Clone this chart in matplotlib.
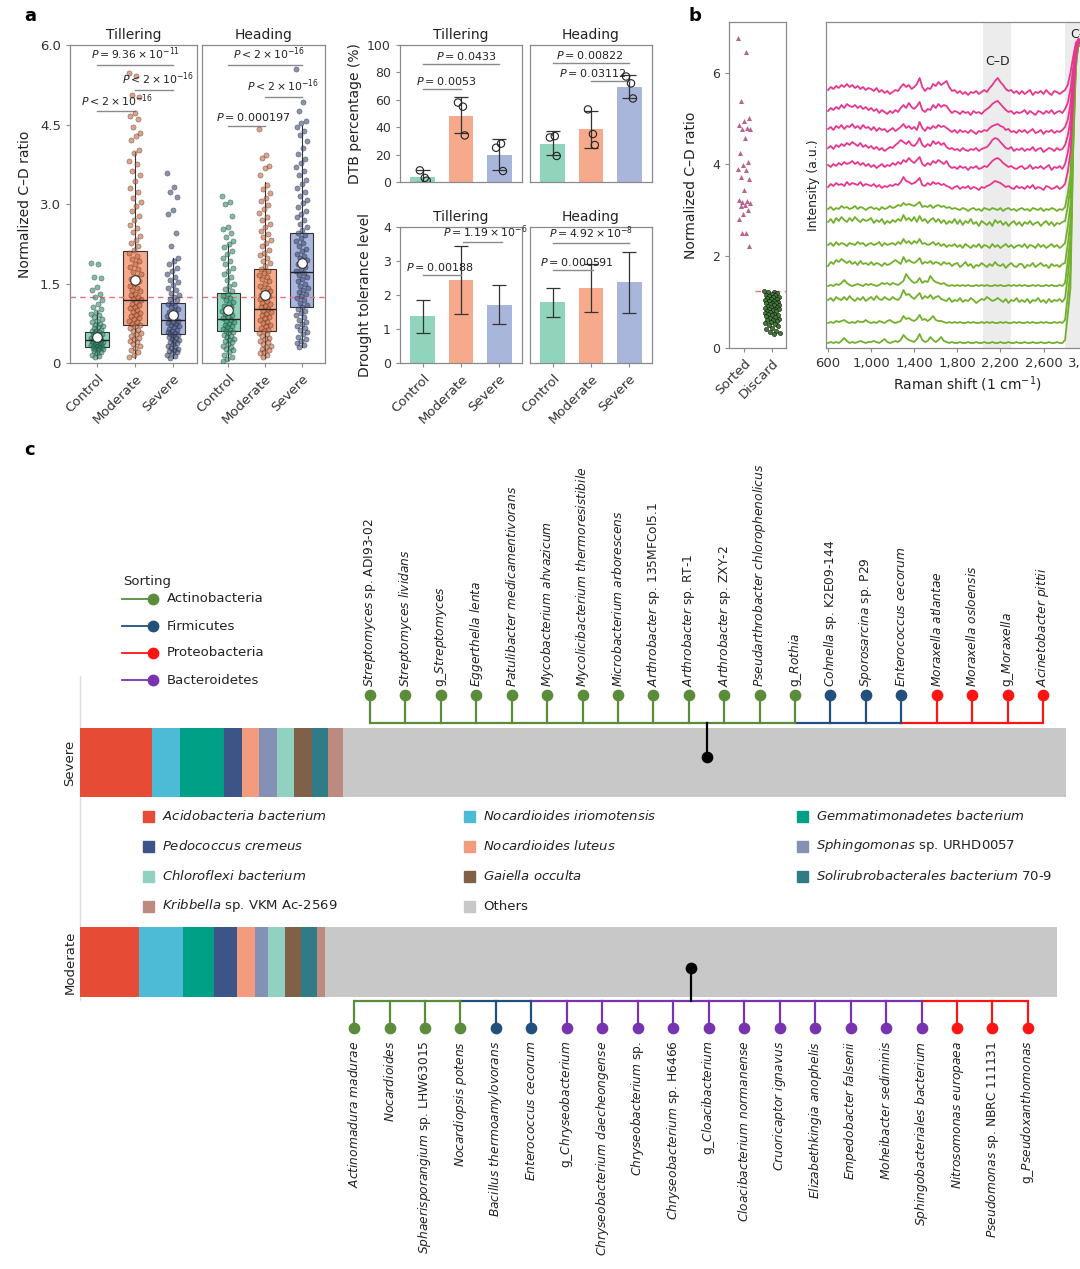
import numpy as np
import matplotlib.pyplot as plt
from matplotlib.patches import Rectangle
from matplotlib.lines import Line2D

W, H = 1080, 1269

# ---------------- panel a: C-D ratio box plots ----------------
groups = ['Control', 'Moderate', 'Severe']
til_q1 = [0.31, 0.72, 0.55]
til_med = [0.43, 1.19, 0.82]
til_q3 = [0.58, 2.12, 1.14]
til_lo = [0.1, 0.1, 0.1]
til_hi = [0.98, 3.98, 1.98]
til_mean = [0.49, 1.57, 0.91]

head_q1 = [0.6, 0.61, 1.05]
head_med = [0.83, 1.02, 1.71]
head_q3 = [1.32, 1.77, 2.46]
head_lo = [0.05, 0.1, 0.3]
head_hi = [2.25, 3.42, 4.48]
head_mean = [1.0, 1.29, 1.88]

til_ctrl = [1.88, 1.86, 1.62, 1.6, 1.44, 1.38, 1.31, 1.24, 1.18, 1.11, 1.06, 1.01, 0.97, 0.93,
            0.9, 0.86, 0.83, 0.79, 0.77, 0.74, 0.72, 0.7, 0.68, 0.66, 0.63, 0.61, 0.6, 0.58,
            0.56, 0.55, 0.53, 0.52, 0.5, 0.49, 0.48, 0.46, 0.45, 0.44, 0.43, 0.42, 0.41, 0.4,
            0.39, 0.38, 0.37, 0.36, 0.35, 0.34, 0.33, 0.32, 0.31, 0.3, 0.29, 0.28, 0.27, 0.26,
            0.24, 0.22, 0.2, 0.18, 0.16, 0.13, 0.11]
til_mod = [5.48, 5.42, 5.05, 5.01, 4.72, 4.66, 4.61, 4.45, 4.34, 4.29, 4.21, 4.02, 3.97, 3.82,
           3.76, 3.62, 3.55, 3.44, 3.31, 3.22, 3.12, 3.03, 2.96, 2.87, 2.78, 2.7, 2.61, 2.55,
           2.47, 2.4, 2.33, 2.26, 2.2, 2.14, 2.08, 2.02, 1.97, 1.92, 1.87, 1.82, 1.77, 1.72,
           1.67, 1.63, 1.58, 1.54, 1.5, 1.46, 1.42, 1.38, 1.35, 1.31, 1.28, 1.24, 1.21, 1.18,
           1.15, 1.12, 1.09, 1.06, 1.03, 1.0, 0.97, 0.94, 0.91, 0.88, 0.85, 0.83, 0.8, 0.77,
           0.74, 0.72, 0.69, 0.66, 0.63, 0.6, 0.57, 0.54, 0.51, 0.48, 0.45, 0.42, 0.39, 0.36,
           0.32, 0.28, 0.24, 0.2, 0.16, 0.12]
til_sev = [3.58, 3.33, 3.22, 3.14, 2.88, 2.82, 2.45, 2.2, 1.98, 1.92, 1.86, 1.8, 1.74, 1.68,
           1.62, 1.57, 1.52, 1.47, 1.42, 1.38, 1.33, 1.29, 1.25, 1.21, 1.18, 1.14, 1.11, 1.08,
           1.05, 1.02, 0.99, 0.96, 0.93, 0.9, 0.88, 0.85, 0.83, 0.8, 0.78, 0.76, 0.73, 0.71,
           0.69, 0.67, 0.65, 0.63, 0.61, 0.59, 0.57, 0.55, 0.53, 0.51, 0.49, 0.47, 0.45, 0.43,
           0.41, 0.39, 0.37, 0.35, 0.33, 0.31, 0.29, 0.27, 0.25, 0.23, 0.21, 0.19, 0.16, 0.13, 0.1]
head_ctrl = [3.15, 3.03, 3.0, 2.78, 2.57, 2.52, 2.45, 2.38, 2.3, 2.24, 2.18, 2.12, 2.05, 1.98,
             1.92, 1.86, 1.8, 1.74, 1.68, 1.62, 1.56, 1.5, 1.45, 1.4, 1.35, 1.31, 1.27, 1.23,
             1.19, 1.15, 1.11, 1.08, 1.05, 1.02, 0.99, 0.96, 0.93, 0.9, 0.87, 0.84, 0.82, 0.79,
             0.77, 0.74, 0.72, 0.7, 0.67, 0.65, 0.63, 0.6, 0.58, 0.56, 0.53, 0.51, 0.49, 0.46,
             0.44, 0.41, 0.39, 0.36, 0.33, 0.3, 0.27, 0.24, 0.2, 0.16, 0.12, 0.08, 0.04]
head_mod = [4.42, 3.92, 3.87, 3.72, 3.68, 3.55, 3.36, 3.28, 3.2, 3.12, 3.05, 2.98, 2.9, 2.83,
            2.76, 2.7, 2.63, 2.57, 2.5, 2.44, 2.38, 2.32, 2.26, 2.2, 2.14, 2.08, 2.03, 1.98,
            1.93, 1.88, 1.83, 1.78, 1.74, 1.7, 1.66, 1.62, 1.58, 1.54, 1.5, 1.46, 1.42, 1.38,
            1.35, 1.32, 1.29, 1.26, 1.23, 1.2, 1.17, 1.14, 1.11, 1.08, 1.05, 1.02, 0.99, 0.96,
            0.93, 0.9, 0.87, 0.84, 0.81, 0.78, 0.75, 0.72, 0.69, 0.66, 0.63, 0.6, 0.57, 0.54,
            0.51, 0.48, 0.45, 0.42, 0.39, 0.36, 0.33, 0.3, 0.27, 0.24, 0.21, 0.18, 0.15, 0.12]
head_sev = [5.55, 4.92, 4.75, 4.57, 4.52, 4.45, 4.38, 4.3, 4.18, 4.05, 3.95, 3.85, 3.78, 3.7,
            3.62, 3.55, 3.45, 3.38, 3.3, 3.22, 3.15, 3.08, 3.01, 2.94, 2.87, 2.81, 2.75, 2.69,
            2.63, 2.57, 2.51, 2.46, 2.41, 2.36, 2.31, 2.26, 2.21, 2.16, 2.11, 2.06, 2.02, 1.98,
            1.94, 1.9, 1.86, 1.82, 1.78, 1.74, 1.7, 1.66, 1.62, 1.58, 1.54, 1.5, 1.46, 1.42,
            1.38, 1.34, 1.3, 1.26, 1.22, 1.18, 1.14, 1.1, 1.06, 1.02, 0.98, 0.94, 0.9, 0.86,
            0.82, 0.78, 0.74, 0.7, 0.66, 0.62, 0.58, 0.54, 0.5, 0.46, 0.42, 0.38, 0.34, 0.3]
cd_threshold = 1.25

# ---------------- panel a: bar charts ----------------
dtb_til = [4, 48.5, 20]
dtb_til_lo = [0, 35.5, 9]
dtb_til_hi = [9, 62, 31.5]
dtb_til_pts = [[8.5, 3, 1], [58, 55, 34], [25, 28, 8]]
dtb_head = [28, 38.5, 69.5]
dtb_head_lo = [19.5, 25, 61]
dtb_head_hi = [37, 51.5, 78]
dtb_head_pts = [[32.5, 33.5, 19], [53, 35, 27], [77, 72, 61]]

tol_til = [1.37, 2.45, 1.72]
tol_til_lo = [0.88, 1.45, 1.14]
tol_til_hi = [1.85, 3.44, 2.3]
tol_head = [1.79, 2.2, 2.38]
tol_head_lo = [1.36, 1.5, 1.48]
tol_head_hi = [2.22, 2.92, 3.27]

# ---------------- panel b ----------------
sorted_ratio = [6.75, 6.45, 5.38, 5.0, 4.95, 4.85, 4.8, 4.78, 4.77, 4.58, 4.25, 4.05, 3.98, 3.9,
                3.88, 3.72, 3.68, 3.45, 3.22, 3.2, 3.18, 3.15, 3.12, 3.1, 3.0, 2.92, 2.82, 2.5,
                2.5, 2.22]
discard_ratio = [1.25, 1.23, 1.21, 1.2, 1.18, 1.16, 1.15, 1.13, 1.12, 1.1, 1.09, 1.07, 1.06, 1.05,
                 1.03, 1.02, 1.01, 0.99, 0.98, 0.97, 0.95, 0.94, 0.93, 0.92, 0.9, 0.89, 0.88,
                 0.86, 0.85, 0.84, 0.82, 0.81, 0.8, 0.78, 0.77, 0.75, 0.74, 0.72, 0.71, 0.69,
                 0.68, 0.66, 0.64, 0.62, 0.6, 0.58, 0.56, 0.54, 0.52, 0.5, 0.47, 0.44, 0.41,
                 0.38, 0.35, 0.32, 0.3]

raman_shift = list(range(600, 3001, 25))
# spectra relative to their own flat level (a.u.), one value every 25 cm-1
spec_sorted = [
    [3, 6, 4, 7, 5, 8, 6, 9, 6, 8, 5, 7, 4, 6, 3, 5,
     4, 2, 5, 1, 3, 0, 2, -1, 1, 3, 2, 6, 9, 6, 8, 4, 6, 9, 15, 6, 2, 5, 4, 9, 7, 11, 8, 10, 12, 6, 2, 3,
     0, 2, -1, 1, -2, 1, 0, 2, -1, 1, 3, 1, 5, 8, 12, 15, 11, 8, 4, 2, 3, 0, 2, -1,
     2, -1, 1, 3, -2, 1, 0, 2, -1, 3, 0, -2, 2, 1, -1, 1,
     3, 8, 20, 36, 50, 54, 52, 48, 40],
    [2, 5, 3, 6, 4, 8, 5, 9, 7, 6, 8, 5, 7, 4, 6, 3,
     5, 2, 4, 0, 3, 1, -1, 2, 0, 3, 1, 5, 8, 5, 10, 6, 4, 7, 11, 3, 1, 4, 3, 8, 5, 9, 6, 8, 7, 3, 0, 2,
     1, -1, 2, 0, 1, -2, 2, 0, 1, -1, 2, 4, 6, 9, 11, 12, 9, 6, 3, 1, 2, -1, 1, 0,
     1, 3, -1, 2, 0, -2, 2, 1, -1, 2, 0, 3, -1, 1, 2, 0,
     4, 10, 24, 45, 66, 74, 72, 64, 55],
    [3, 5, 2, 6, 4, 7, 3, 6, 5, 8, 4, 6, 3, 7, 4, 5,
     2, 5, 1, 4, 2, 3, 0, 2, 4, 1, 3, 5, 8, 4, 6, 3, 5, 2, 10, 4, 1, 5, 3, 6, 4, 7, 5, 6, 4, 2, 0, 2,
     -1, 2, 0, 1, -1, 2, 0, -2, 1, 0, 2, 1, 4, 6, 7, 8, 6, 5, 2, 3, 0, 1, -1, 2,
     0, 2, -1, 1, 3, -1, 0, 2, -2, 1, 0, 2, -1, 1, 0, 2,
     5, 12, 28, 55, 82, 92, 90, 80, 70],
    [2, 4, 1, 5, 3, 6, 4, 7, 5, 8, 6, 4, 7, 3, 5, 2,
     4, 1, 3, 0, 2, -1, 1, 3, 2, 5, 7, 10, 8, 6, 9, 5, 4, 7, 12, 5, 3, 6, 4, 9, 6, 8, 5, 7, 3, 1, 2, 0,
     1, -1, 2, 0, -1, 1, 0, 2, -1, 1, 2, 3, 6, 10, 12, 11, 8, 5, 2, 1, 3, -1, 1, 0,
     2, -1, 1, 0, 3, -1, 1, 2, -2, 0, 2, 1, -1, 2, 0, 1,
     5, 14, 30, 65, 98, 110, 108, 96, 85],
    [3, 1, 4, 2, 5, 3, 6, 4, 5, 7, 4, 6, 3, 5, 2, 4,
     1, 3, 0, 2, 4, 1, 3, 2, 5, 3, 6, 4, 8, 6, 10, 7, 5, 8, 11, 4, 2, 5, 3, 7, 5, 8, 6, 4, 7, 2, 0, 1,
     -1, 2, 0, 1, -2, 1, 0, 2, -1, 0, 2, 1, 4, 7, 9, 10, 8, 5, 3, 1, 2, 0, -1, 1,
     2, -1, 0, 3, -1, 1, 0, 2, -1, 1, 3, -2, 1, 0, 2, -1,
     4, 15, 32, 75, 115, 128, 126, 112, 100],
    [1, 4, 2, 5, 3, 4, 2, 6, 3, 5, 4, 3, 6, 2, 4, 3,
     2, 4, 1, 3, 0, 2, 1, 3, 2, 4, 3, 6, 11, 7, 6, 4, 5, 7, 10, 3, 2, 5, 3, 6, 4, 5, 3, 4, 2, 1, -1, 1,
     2, -1, 1, 0, 2, -1, 1, 0, -2, 1, 0, 2, 3, 5, 7, 6, 5, 3, 1, 2, 0, -1, 2, 0,
     1, -1, 2, 0, 3, -1, 1, 0, -2, 2, 1, -1, 0, 2, -1, 1,
     4, 16, 35, 85, 130, 146, 144, 128, 115],
]
spec_discard = [
    [1, 3, 0, 2, 1, 4, 2, 3, 1, 2, 4, 1, 3, 2, 0, 2,
     3, 1, 2, 0, 3, 1, 2, 4, 2, 3, 5, 4, 7, 5, 6, 5, 4, 6, 8, 3, 4, 3, 5, 2, 4, 5, 3, 4, 2, 3, 1, 2,
     1, 0, 2, 1, -1, 1, 2, 0, 1, -1, 2, 1, 0, 2, 1, 0, 2, -1, 1, 2, 0, 1, -1, 1,
     2, 0, 1, -1, 2, 1, 0, 2, -1, 1, 0, 2, 1, -1, 1, 0,
     3, 16, 35, 95, 150, 165, 163, 148, 130],
    [3, 6, 2, 7, 4, 8, 5, 3, 7, 4, 8, 5, 3, 6, 4, 5,
     7, 2, 5, 3, 6, 1, 4, 2, 5, 3, 6, 4, 10, 5, 7, 4, 8, 3, 9, 4, 6, 2, 5, 7, 3, 6, 2, 5, 1, 4, 2, 6,
     1, 5, 0, 4, 2, 6, 1, 3, -1, 4, 2, 0, 3, -1, 5, 2, 4, 0, 3, -1, 2, 4, 0, 3,
     -1, 3, 1, 4, 0, 2, 3, -1, 2, 4, 0, 3, -1, 2, 1, 3,
     4, 18, 38, 105, 165, 180, 178, 160, 140],
    [2, 4, 1, 5, 2, 4, 3, 1, 4, 3, 2, 5, 3, 4, 1, 3,
     4, 2, 3, 5, 1, 4, 2, 3, 4, 2, 5, 3, 8, 4, 6, 3, 6, 4, 8, 3, 4, 2, 3, 5, 2, 4, 1, 3, 0, 2, 1, 3,
     0, 2, -1, 3, 1, -1, 2, 0, 3, -1, 2, 1, -1, 3, 0, 2, -1, 1, 3, 0, 2, -1, 1, 2,
     0, 3, -1, 2, 1, -1, 3, 0, 2, -1, 1, 3, 0, 2, -1, 1,
     4, 20, 42, 120, 185, 205, 200, 180, 160],
    [1, 5, 3, 7, 5, 8, 6, 4, 6, 3, 5, 2, 6, 3, 4, 2,
     5, 2, 4, 3, 1, 4, 2, 3, 5, 7, 5, 3, 10, 5, 7, 5, 4, 6, 9, 3, 5, 4, 6, 3, 5, 4, 2, 5, 3, 4, 1, 3,
     4, 0, 2, 5, 1, 3, -1, 2, 1, 4, 2, 0, 3, 1, 5, 2, 1, 3, -1, 2, 4, 1, 0, 3,
     3, -1, 2, 1, 4, 0, 2, 4, 1, 2, -1, 3, 1, 2, 0, 3,
     4, 22, 45, 135, 205, 225, 220, 198, 175],
    [0, 1, 0, 2, 1, 3, 6, 3, 1, 0, 1, 2, 1, 0, 2, 1,
     2, 1, 0, 1, 3, 2, 3, 1, 3, 2, 1, 3, 5, 12, 8, 5, 3, 4, 8, 3, 5, 4, 10, 6, 4, 3, 2, 3, 1, 0, 1, 0,
     1, 0, 1, 0, 1, 0, 0, 1, 0, 1, 0, 1, 0, 0, 1, 0, 1, 0, 0, 1, 0, 1, 0, 1,
     0, 1, 0, 0, 1, 0, 1, 0, 0, 1, 0, 1, 0, 0, 1, 0,
     3, 24, 48, 150, 225, 245, 240, 215, 190],
    [2, 4, 1, 5, 3, 2, 5, 2, 6, 3, 1, 4, 2, 5, 1, 3,
     5, 2, 6, 3, 2, 5, 3, 2, 5, 3, 2, 5, 12, 7, 8, 5, 3, 6, 9, 3, 6, 4, 7, 3, 5, 6, 3, 2, 1, 4, 0, 2,
     1, 4, 0, 2, 1, 4, 2, -1, 1, 3, 2, 5, 3, 1, 2, 4, 2, 0, 3, -1, 2, 1, 4, 0,
     2, 0, 3, -1, 2, 1, 4, 0, 2, -1, 3, 0, 2, 1, 3, 0,
     4, 25, 50, 165, 240, 262, 258, 230, 205],
    [0, 1, 0, 2, 1, 2, 3, 1, 0, 1, 0, 2, 1, 1, 3, 1,
     0, 1, 0, 2, 1, 0, 2, 3, 1, 0, 1, 2, 7, 4, 5, 3, 2, 4, 8, 3, 4, 2, 4, 7, 3, 2, 2, 1, 0, 1, 0, 1,
     0, 1, 0, 0, 1, 0, 1, 0, 0, 1, 0, 1, 0, 1, 0, 0, 1, 0, 1, 0, 0, 1, 0, 1,
     0, 0, 1, 0, 1, 0, 0, 1, 0, 1, 0, 0, 1, 0, 1, 0,
     3, 26, 52, 175, 255, 282, 278, 248, 220],
    [0, 1, 0, 1, 0, 2, 5, 2, 0, 1, 0, 1, 2, 1, 0, 1,
     1, 2, 1, 0, 2, 4, 1, 0, 1, 2, 1, 3, 8, 5, 3, 2, 1, 4, 9, 3, 1, 2, 6, 3, 1, 3, 6, 2, 1, 0, 1, 0,
     0, 1, 0, 0, 1, 0, 0, 1, 0, 0, 1, 0, 0, 1, 0, 0, 1, 0, 0, 1, 0, 0, 1, 0,
     0, 1, 0, 0, 1, 0, 0, 1, 0, 0, 1, 0, 0, 1, 0, 0,
     3, 28, 55, 190, 275, 300, 296, 262, 235],
]
sorted_offsets = [255, 235, 216, 198, 180, 160]
discard_offsets = [138, 123, 101, 81, 62, 46, 25, 5]

# ---------------- panel c ----------------
taxa = [r'$\it{Acidobacteria\ bacterium}$', r'$\it{Nocardioides\ iriomotensis}$',
        r'$\it{Gemmatimonadetes\ bacterium}$', r'$\it{Pedococcus\ cremeus}$',
        r'$\it{Nocardioides\ luteus}$', r'$\it{Sphingomonas}$ sp. URHD0057',
        r'$\it{Chloroflexi\ bacterium}$', r'$\it{Gaiella\ occulta}$',
        r'$\it{Solirubrobacterales\ bacterium}$ 70-9', r'$\it{Kribbella}$ sp. VKM Ac-2569',
        'Others']
taxa_colors = ['#e64b35', '#4dbbd5', '#00a087', '#3c5488', '#f39b7f', '#8491b4',
               '#91d1c2', '#7e6148', '#317b87', '#bd8a80', '#c8c8c8']
severe_abund = [7.3, 2.87, 4.43, 1.86, 1.69, 1.80, 1.79, 1.76, 1.68, 1.52, 73.3]
moderate_abund = [5.98, 4.51, 3.05, 2.37, 1.87, 1.26, 1.72, 1.66, 1.65, 0.80, 74.23]

phyla = ['Actinobacteria', 'Firmicutes', 'Proteobacteria', 'Bacteroidetes']
phyla_colors = {'Actinobacteria': '#5b8c3a', 'Firmicutes': '#22507e',
                'Proteobacteria': '#ff1414', 'Bacteroidetes': '#7834b0'}

severe_taxa = [r'$\it{Streptomyces}$ sp. ADI93-02', r'$\it{Streptomyces\ lividans}$',
               r'g_$\it{Streptomyces}$', r'$\it{Eggerthella\ lenta}$',
               r'$\it{Patulibacter\ medicamentivorans}$', r'$\it{Mycobacterium\ ahvazicum}$',
               r'$\it{Mycolicibacterium\ thermoresistibile}$',
               r'$\it{Microbacterium\ arborescens}$', r'$\it{Arthrobacter}$ sp. 135MFCol5.1',
               r'$\it{Arthrobacter}$ sp. RT-1', r'$\it{Arthrobacter}$ sp. ZXY-2',
               r'$\it{Pseudarthrobacter\ chlorophenolicus}$', r'g_$\it{Rothia}$',
               r'$\it{Cohnella}$ sp. K2E09-144', r'$\it{Sporosarcina}$ sp. P29',
               r'$\it{Enterococcus\ cecorum}$', r'$\it{Moraxella\ atlantae}$',
               r'$\it{Moraxella\ osloensis}$', r'g_$\it{Moraxella}$',
               r'$\it{Acinetobacter\ pittii}$']
severe_phyla = ['Actinobacteria'] * 13 + ['Firmicutes'] * 3 + ['Proteobacteria'] * 4

moderate_taxa = [r'$\it{Actinomadura\ madurae}$', r'$\it{Nocardioides}$',
                 r'$\it{Sphaerisporangium}$ sp. LHW63015', r'$\it{Nocardiopsis\ potens}$',
                 r'$\it{Bacillus\ thermoamylovorans}$', r'$\it{Enterococcus\ cecorum}$',
                 r'g_$\it{Chryseobacterium}$', r'$\it{Chryseobacterium\ daecheongense}$',
                 r'$\it{Chryseobacterium}$ sp.', r'$\it{Chryseobacterium}$ sp. H6466',
                 r'g_$\it{Cloacibacterium}$', r'$\it{Cloacibacterium\ normanense}$',
                 r'$\it{Cruoricaptor\ ignavus}$', r'$\it{Elizabethkingia\ anophelis}$',
                 r'$\it{Empedobacter\ falsenii}$', r'$\it{Moheibacter\ sediminis}$',
                 r'$\it{Sphingobacteriales\ bacterium}$', r'$\it{Nitrosomonas\ europaea}$',
                 r'$\it{Pseudomonas}$ sp. NBRC 111131', r'g_$\it{Pseudoxanthomonas}$']
moderate_phyla = (['Actinobacteria'] * 4 + ['Firmicutes'] * 2 + ['Bacteroidetes'] * 11
                  + ['Proteobacteria'] * 3)

fills = ['#8fd4bb', '#f7a98b', '#a9b6db']
dots = ['#2f8f6c', '#c9683c', '#3d4c7c']

plt.rcParams.update({
    'font.family': 'DejaVu Sans', 'font.size': 9, 'mathtext.fontset': 'dejavusans',
    'axes.edgecolor': '#8a8a8a', 'axes.linewidth': 0.9,
    'xtick.color': '#8a8a8a', 'ytick.color': '#8a8a8a',
    'xtick.labelcolor': '#333333', 'ytick.labelcolor': '#333333',
    'xtick.major.size': 3, 'ytick.major.size': 3, 'text.color': '#222222',
    'axes.labelcolor': '#222222',
})

TS = '\u2009'  # thin space around the times sign


def box(l, t, r, b):
    return [l / W, 1 - b / H, (r - l) / W, (b - t) / H]


def fx(x):
    return x / W


def fy(y):
    return 1 - y / H


def p_label(ax, x0, x1, y, tx, txt, dy, size=7.8):
    ax.plot([x0, x1], [y, y], color='#8a8a8a', lw=1)
    ax.text(tx, y + dy, txt, ha='center', va='bottom', fontsize=size)


def sci(op, mant, exp):
    return rf'$P${TS}{op}{TS}{mant}{TS}×{TS}10$^{{{exp}}}$'


def cdr_panel(ax, q1, med, q3, lo, hi, means, pts, title):
    stats = [dict(q1=a, med=b, q3=c, whislo=d, whishi=e)
             for a, b, c, d, e in zip(q1, med, q3, lo, hi)]
    art = ax.bxp(stats, positions=[0, 1, 2], widths=0.62, patch_artist=True,
                 showfliers=False, showcaps=False,
                 boxprops=dict(lw=0.8, edgecolor='#333333'),
                 whiskerprops=dict(lw=0.8, color='#333333'),
                 medianprops=dict(lw=1, color='#222222'), zorder=1)
    for patch, c in zip(art['boxes'], fills):
        patch.set_facecolor(c)
    for m in art['medians']:
        m.set_zorder(4)
    for i, vals in enumerate(pts):
        jit = ((np.arange(len(vals)) * 0.618034) % 1 - 0.5) * 0.32
        ax.scatter(i + jit, vals, s=14, facecolor=dots[i], edgecolor='#1a1a1a', lw=0.35,
                   alpha=0.6, zorder=3)
    ax.scatter([0, 1, 2], means, s=48, facecolor='white', edgecolor='#333333', lw=0.8,
               zorder=5)
    ax.axhline(cd_threshold, color='#f07070', ls=(0, (4, 3)), lw=1, zorder=2)
    ax.set_xlim(-0.71, 2.63)
    ax.set_ylim(0, 6)
    ax.set_xticks([0, 1, 2])
    ax.set_xticklabels(groups, rotation=45, ha='right', rotation_mode='anchor', fontsize=9.5)
    ax.set_title(title, fontsize=10, pad=4)


def bar_panel(ax, means, lo, hi, pts=None):
    means = np.array(means)
    ax.bar([0, 1, 2], means, width=0.65, color=fills)
    ax.errorbar([0, 1, 2], means, yerr=[means - np.array(lo), np.array(hi) - means],
                fmt='none', ecolor='#333333', elinewidth=0.9, capsize=5, capthick=0.9)
    if pts is not None:
        offs = [-0.08, 0.05, 0.1]
        for i, vals in enumerate(pts):
            ax.scatter([i + o for o in offs], vals, s=28, facecolor='none',
                       edgecolor='#222222', lw=0.8, zorder=4)
    ax.set_xlim(-0.6, 2.6)
    ax.set_xticks([0, 1, 2])


fig = plt.figure(figsize=(W / 100, H / 100), dpi=100)

# panel a, box plots
ax_t = fig.add_axes(box(70, 45, 197, 363))
ax_h = fig.add_axes(box(202, 45, 325, 363))
cdr_panel(ax_t, til_q1, til_med, til_q3, til_lo, til_hi, til_mean,
          [til_ctrl, til_mod, til_sev], 'Tillering')
cdr_panel(ax_h, head_q1, head_med, head_q3, head_lo, head_hi, head_mean,
          [head_ctrl, head_mod, head_sev], 'Heading')
ax_t.set_yticks([0, 1.5, 3.0, 4.5, 6.0])
ax_t.set_yticklabels(['0', '1.5', '3.0', '4.5', '6.0'], fontsize=9.5)
ax_t.set_ylabel('Normalized C–D ratio', fontsize=10, labelpad=6)
ax_h.tick_params(axis='y', left=False, labelleft=False)
p_label(ax_t, 0, 2, 5.62, 1.0, sci('=', '9.36', '-11'), 0.05)
p_label(ax_t, 1, 2, 5.16, 1.6, sci('<', '2', '-16'), 0.05)
p_label(ax_t, 0, 1, 4.75, 0.53, sci('<', '2', '-16'), 0.05)
p_label(ax_h, 0, 2, 5.62, 1.1, sci('<', '2', '-16'), 0.05)
p_label(ax_h, 1, 2, 5.02, 1.5, sci('<', '2', '-16'), 0.05)
p_label(ax_h, 0, 1, 4.48, 0.68, rf'$P${TS}={TS}0.000197', 0.05, 8)

# panel a, bars
ax_d1 = fig.add_axes(box(400, 45, 522, 182))
ax_d2 = fig.add_axes(box(530, 45, 652, 182))
ax_l1 = fig.add_axes(box(400, 227, 522, 363))
ax_l2 = fig.add_axes(box(530, 227, 652, 363))
bar_panel(ax_d1, dtb_til, dtb_til_lo, dtb_til_hi, dtb_til_pts)
bar_panel(ax_d2, dtb_head, dtb_head_lo, dtb_head_hi, dtb_head_pts)
bar_panel(ax_l1, tol_til, tol_til_lo, tol_til_hi)
bar_panel(ax_l2, tol_head, tol_head_lo, tol_head_hi)
for ax in (ax_d1, ax_d2):
    ax.set_ylim(0, 100)
    ax.tick_params(axis='x', bottom=False, labelbottom=False)
for ax in (ax_l1, ax_l2):
    ax.set_ylim(0, 4)
    ax.set_xticklabels(groups, rotation=45, ha='right', rotation_mode='anchor', fontsize=9.5)
for ax in (ax_d2, ax_l2):
    ax.tick_params(axis='y', left=False, labelleft=False)
ax_d1.set_yticks([0, 20, 40, 60, 80, 100])
ax_l1.set_yticks([0, 1, 2, 3, 4])
ax_d1.set_ylabel('DTB percentage (%)', fontsize=10, labelpad=4)
ax_l1.set_ylabel('Drought tolerance level', fontsize=10, labelpad=8)
for ax, t in ((ax_d1, 'Tillering'), (ax_d2, 'Heading'), (ax_l1, 'Tillering'), (ax_l2, 'Heading')):
    ax.set_title(t, fontsize=10, pad=4)
p_label(ax_d1, 0, 2, 86.4, 1.13, rf'$P${TS}={TS}0.0433', 1.5, 8)
p_label(ax_d1, 0, 1, 68, 0.6, rf'$P${TS}={TS}0.0053', 1.5, 8)
p_label(ax_d2, 0, 2, 87, 0.97, rf'$P${TS}={TS}0.00822', 1.5, 8)
p_label(ax_d2, 1, 2, 74, 1.05, rf'$P${TS}={TS}0.03112', 1.5, 8)
p_label(ax_l1, 0, 1, 2.59, 0.45, rf'$P${TS}={TS}0.00188', 0.05, 8)
p_label(ax_l1, 1.05, 2.08, 3.56, 1.63, sci('=', '1.19', '-6'), 0.05)
p_label(ax_l2, 0, 2, 3.53, 1.0, sci('=', '4.92', '-8'), 0.05)
p_label(ax_l2, 0, 1.05, 2.73, 0.64, rf'$P${TS}={TS}0.000591', 0.05, 8)

# panel b, sorted vs discard
ax_s = fig.add_axes(box(729, 22, 786, 348))
jit_s = ((np.arange(len(sorted_ratio)) * 0.618034) % 1 - 0.5) * 0.45
jit_d = ((np.arange(len(discard_ratio)) * 0.618034) % 1 - 0.5) * 0.55
ax_s.scatter(0 + jit_s, sorted_ratio, marker='^', s=13, color='#b8648e', lw=0, zorder=3)
ax_s.scatter(1 + jit_d, discard_ratio, s=9, facecolor='#3f7d35', edgecolor='#111111', lw=0.4,
             zorder=3)
ax_s.axhline(cd_threshold, xmin=0.45, color='#f07070', ls=(0, (4, 3)), lw=1)
ax_s.set_xlim(-0.54, 1.5)
ax_s.set_ylim(0, 7.1)
ax_s.set_yticks([0, 2, 4, 6])
ax_s.set_xticks([0, 1])
ax_s.set_xticklabels(['Sorted', 'Discard'], rotation=45, ha='right', rotation_mode='anchor',
                     fontsize=9.5)
ax_s.set_ylabel('Normalized C–D ratio', fontsize=10, labelpad=10)

# panel b, spectra
ax_r = fig.add_axes(box(826, 22, 1109, 348))
ax_r.axvspan(2040, 2300, color='#ececec', lw=0, zorder=0)
ax_r.axvspan(2800, 3300, color='#ececec', lw=0, zorder=0)
for vals, off in zip(spec_discard, discard_offsets):
    ax_r.plot(raman_shift, np.array(vals) + off, color='#72b02c', lw=1.3, zorder=2)
for vals, off in zip(spec_sorted, sorted_offsets):
    ax_r.plot(raman_shift, np.array(vals) + off, color='#e8368f', lw=1.3, zorder=3)
ax_r.text(2170, 280, 'C–D', ha='center', va='bottom', fontsize=9)
ax_r.text(2965, 313, 'C–H', ha='center', va='center', fontsize=9)
ax_r.set_xlim(581, 3208)
ax_r.set_ylim(0, 326)
ax_r.set_yticks([])
ax_r.set_xticks([600, 1000, 1400, 1800, 2200, 2600, 3000])
ax_r.set_xticklabels(['600', '1,000', '1,400', '1,800', '2,200', '2,600', '3,000'], fontsize=9.5)
ax_r.set_ylabel('Intensity (a.u.)', fontsize=9, labelpad=4)
ax_r.set_xlabel(r'Raman shift (1 cm$^{-1}$)', fontsize=10, labelpad=3)

# panel c, stacked abundance bars
for top, bot, abund, name in ((728, 797, severe_abund, 'Severe'),
                              (927, 997, moderate_abund, 'Moderate')):
    ax = fig.add_axes(box(80, top, 1066, bot))
    left = np.concatenate([[0], np.cumsum(abund)[:-1]])
    ax.barh(0, abund, left=left, height=1, color=taxa_colors, lw=0)
    ax.set_xlim(0, 100)
    ax.set_ylim(-0.5, 0.5)
    ax.axis('off')
    fig.text(fx(70), fy((top + bot) / 2), name, rotation=90, ha='center', va='center',
             fontsize=9.5)
fig.add_artist(Line2D([fx(80), fx(80)], [fy(676), fy(1000)], color='#dedede', lw=1, zorder=0))


def tree(ax, labels, phy, above):
    n = len(labels)
    ax.set_xlim(-0.5, n - 0.5)
    ax.set_ylim(0, 1)
    ax.axis('off')
    leaf_y, branch_y, root_y = (1, 0.55, 0) if above else (0, 0.45, 1)
    start = 0
    seen = []
    for p in phy:
        if p not in seen:
            seen.append(p)
    for p in seen:
        end = max(i for i, q in enumerate(phy) if q == p)
        ax.plot([start, end], [branch_y, branch_y], color=phyla_colors[p], lw=1.6,
                solid_capstyle='butt', clip_on=False)
        start = end
    for i, (lab, p) in enumerate(zip(labels, phy)):
        c = phyla_colors[p]
        ax.plot([i, i], [branch_y, leaf_y], color=c, lw=1.6, clip_on=False)
        ax.scatter([i], [leaf_y], s=55, color=c, zorder=4, clip_on=False)
        ax.annotate(lab, (i, leaf_y), xytext=(0, 6 if above else -9),
                    textcoords='offset points', rotation=90, ha='center',
                    va='bottom' if above else 'top', fontsize=8.8)
    mid = (n - 1) / 2
    ax.plot([mid, mid], [branch_y, root_y], color='black', lw=1.6, clip_on=False)
    ax.scatter([mid], [root_y], s=55, color='black', zorder=4, clip_on=False)


tree(fig.add_axes(box(352.3, 695, 1060.7, 757)), severe_taxa, severe_phyla, True)
tree(fig.add_axes(box(336.3, 968, 1045.7, 1028)), moderate_taxa, moderate_phyla, False)

# sorting legend
fig.text(fx(123), fy(581), 'Sorting', fontsize=9.5, va='center')
for k, p in enumerate(phyla):
    y = 599 + 27 * k
    c = phyla_colors[p]
    fig.add_artist(Line2D([fx(122), fx(153)], [fy(y), fy(y)], color=c, lw=1.3))
    fig.add_artist(Line2D([fx(153)], [fy(y)], marker='o', ms=7.5, color=c, lw=0))
    fig.text(fx(167), fy(y), p, va='center', fontsize=9.5)

# taxa legend (row-major, 3 columns)
col_x = [143, 464, 797]
for i, (lab, c) in enumerate(zip(taxa, taxa_colors)):
    x = col_x[i % 3]
    y = 816 + 30 * (i // 3)
    fig.add_artist(Rectangle((fx(x), fy(y + 5.5)), 11 / W, 11 / H, color=c,
                             transform=fig.transFigure))
    fig.text(fx(x + 19), fy(y), lab, va='center', fontsize=9.5)

# panel letters
for letter, x, y in (('a', 24, 16), ('b', 689, 16), ('c', 24, 450)):
    fig.text(fx(x), fy(y), letter, fontsize=13, fontweight='bold', va='center', color='black')

fig.savefig('out.png', dpi=100)
